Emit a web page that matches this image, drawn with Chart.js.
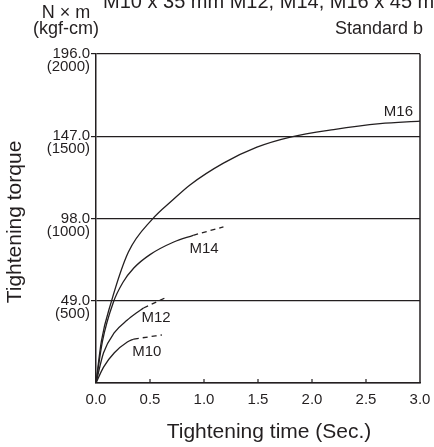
<!DOCTYPE html>
<html lang="en">
<head>
    <meta charset="UTF-8">
    <title>Tightening torque vs time</title>
    <script src="https://cdn.jsdelivr.net/npm/chart.js"></script>
    <style>
        body { margin: 0; background: #fff; }
        #wrap { width: 434px; height: 447px; }
    </style>
</head>
<body>
<div id="wrap"><canvas id="torqueChart" width="434" height="447"></canvas></div>

<script>
// values (time in sec, torque in N x m)
const xTicks = [0, 0.5, 1.0, 1.5, 2.0, 2.5, 3.0];
const yTicks = [0, 49, 98, 147, 196];

const m16Time   = [0, 0.05, 0.14, 0.30, 0.52, 0.71, 0.87, 1.18, 1.49, 1.80, 2.20, 2.63, 3.00];
const m16Torque = [0, 25, 48, 78, 97.5, 109, 118, 131, 140.5, 146.5, 151, 154.5, 156];

const m14Time   = [0, 0.06, 0.16, 0.25, 0.35, 0.50, 0.72, 0.90];
const m14Torque = [0, 25, 48, 60, 68.5, 76.5, 84, 88];
const m14DashTime   = [0.90, 1.18];
const m14DashTorque = [88, 93];

const m12Time   = [0, 0.07, 0.17, 0.29, 0.38, 0.44];
const m12Torque = [0, 18, 30, 37.5, 42, 44.7];
const m12DashTime   = [0.44, 0.65];
const m12DashTorque = [44.7, 51];

const m10Time   = [0, 0.07, 0.17, 0.29, 0.35];
const m10Torque = [0, 9.5, 18, 24.4, 26.2];
const m10DashTime   = [0.35, 0.61];
const m10DashTorque = [26.2, 28.6];

const seriesNames = ['M16', 'M14', 'M12', 'M10'];
// where each name sits (data coords)
const nameX = [2.8, 1.0, 0.556, 0.47];
const nameY = [161.4, 79.8, 38.7, 18.5];

const ink = '#231f20';
const font = '"Liberation Sans", Arial, sans-serif';

function pts(xs, ys) {
    return xs.map((x, i) => ({ x: x, y: ys[i] }));
}

function line(xs, ys, dashed) {
    return {
        data: pts(xs, ys),
        borderColor: ink,
        borderWidth: 1.3,
        borderDash: dashed ? [5, 4] : [],
        pointRadius: 0,
        fill: false,
        cubicInterpolationMode: 'monotone'
    };
}

const extras = {
    id: 'extras',
    afterDraw(chart) {
        const c = chart.ctx;
        const a = chart.chartArea;
        const xs = chart.scales.x, ys = chart.scales.y;
        c.save();
        // right border
        c.strokeStyle = ink;
        c.lineWidth = 1.5;
        c.beginPath();
        c.moveTo(a.right, a.top);
        c.lineTo(a.right, a.bottom);
        c.stroke();
        // small inward ticks on the time axis
        c.lineWidth = 1.2;
        xTicks.slice(1, -1).forEach(v => {
            const px = xs.getPixelForValue(v);
            c.beginPath();
            c.moveTo(px, a.bottom);
            c.lineTo(px, a.bottom - 4);
            c.stroke();
        });

        c.fillStyle = ink;
        // curve names
        c.font = '15px ' + font;
        c.textAlign = 'center';
        c.textBaseline = 'middle';
        seriesNames.forEach((n, i) => {
            c.fillText(n, xs.getPixelForValue(nameX[i]), ys.getPixelForValue(nameY[i]));
        });

        // unit label
        c.font = '18px ' + font;
        c.textBaseline = 'alphabetic';
        c.fillText('N \u00d7 m', 66, 18);
        c.fillText('(kgf-cm)', 66, 34);

        // heading (cut off by the picture edge)
        c.textAlign = 'left';
        c.font = '20px ' + font;
        c.fillText('M10 x 35 mm M12, M14, M16 x 45 mm', 103, 8);
        c.font = '18px ' + font;
        c.fillText('Standard b', 335, 34);

        // axis titles
        c.textAlign = 'center';
        c.textBaseline = 'middle';
        c.font = '21px ' + font;
        c.fillText('Tightening time (Sec.)', 269, 432);
        c.translate(15, 222);
        c.rotate(-Math.PI / 2);
        c.fillText('Tightening torque', 0, 0);
        c.restore();
    }
};

new Chart(document.getElementById('torqueChart'), {
    type: 'line',
    data: {
        datasets: [
            line(m16Time, m16Torque, false),
            line(m14Time, m14Torque, false),
            line(m14DashTime, m14DashTorque, true),
            line(m12Time, m12Torque, false),
            line(m12DashTime, m12DashTorque, true),
            line(m10Time, m10Torque, false),
            line(m10DashTime, m10DashTorque, true)
        ]
    },
    options: {
        responsive: false,
        animation: false,
        devicePixelRatio: 1,
        layout: { padding: { top: 54, right: 14, left: 0, bottom: 0 } },
        plugins: { legend: { display: false }, tooltip: { enabled: false } },
        scales: {
            x: {
                type: 'linear',
                min: 0,
                max: 3,
                afterBuildTicks: s => { s.ticks = xTicks.map(v => ({ value: v })); },
                grid: { display: false, drawTicks: false },
                border: { display: true, color: ink, width: 1.5 },
                ticks: {
                    callback: v => v.toFixed(1),
                    color: ink,
                    font: { size: 15, family: font },
                    padding: 8,
                    maxRotation: 0
                },
                afterFit: s => { s.height = 64; s.paddingLeft = 0; s.paddingRight = 0; }
            },
            y: {
                min: 0,
                max: 196,
                afterBuildTicks: s => { s.ticks = yTicks.map(v => ({ value: v })); },
                grid: {
                    color: ink,
                    lineWidth: 1.2,
                    tickLength: 5,
                    tickColor: ctx => (ctx.tick && ctx.tick.value === 0) ? 'rgba(0,0,0,0)' : ink
                },
                border: { display: true, color: ink, width: 1.5 },
                ticks: {
                    callback: v => v === 0 ? '' : [v.toFixed(1), '(' + Math.round(v / 49 * 500) + ')'],
                    color: ink,
                    font: { size: 15, family: font, lineHeight: '13px' },
                    padding: 1,
                    labelOffset: 6.5
                },
                afterFit: s => { s.width = 96; s.paddingTop = 0; s.paddingBottom = 0; }
            }
        }
    },
    plugins: [extras]
});
</script>
</body>
</html>
